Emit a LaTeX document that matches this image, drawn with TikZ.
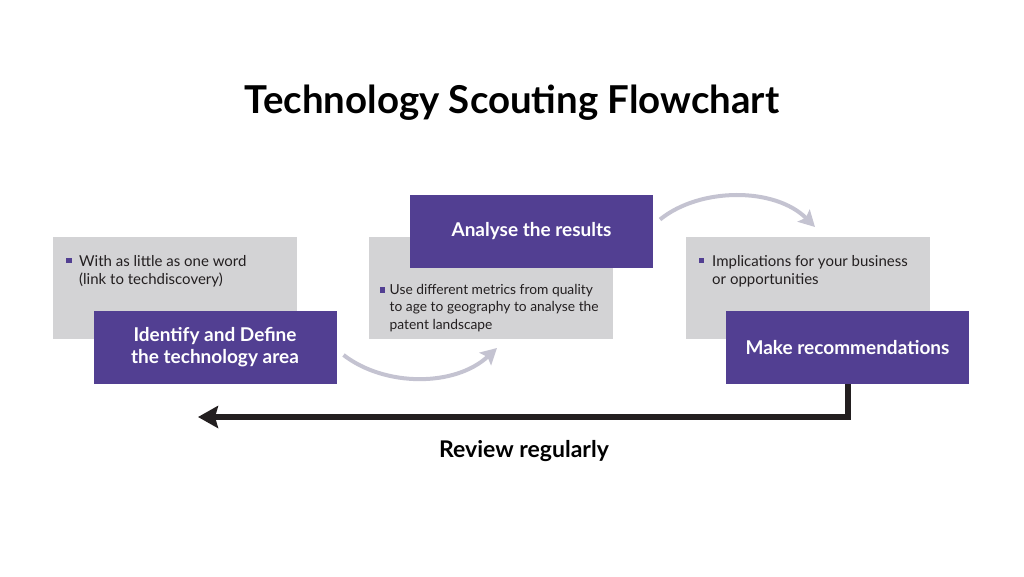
\documentclass[tikz,border=0pt]{standalone}
\usepackage{fontspec}
\setmainfont{Lato}
\usepackage{xcolor}
\usetikzlibrary{arrows.meta}
\definecolor{scoutpurple}{HTML}{523F92}
\definecolor{scoutgray}{HTML}{D3D3D5}
\definecolor{scoutcurve}{HTML}{C4C3D1}
\definecolor{scoutblack}{HTML}{231F20}
\tikzset{
    graybox/.style={fill=scoutgray, inner sep=0pt, outer sep=0pt, minimum width=244pt, minimum height=102pt},
    stepbox/.style={fill=scoutpurple, text=white, inner sep=0pt, outer sep=0pt, minimum width=243pt, minimum height=73pt, align=center, font=\fontsize{19}{22}\selectfont\bfseries},
    bulletsq/.style={fill=scoutpurple, inner sep=0pt, minimum size=5.5pt},
    bullettext/.style={anchor=base west, inner sep=0pt, align=left, text=scoutblack, font=\fontsize{15}{18}\selectfont},
    curvearrow/.style={draw=scoutcurve, line width=4pt, -{Stealth[length=16pt,width=17pt,inset=3pt]}},
    reviewarrow/.style={draw=scoutblack, line width=6pt, -{Stealth[length=20pt,width=22pt,inset=3pt]}}
}

\begin{document}
\begin{tikzpicture}[x=1pt,y=-1pt]
    \useasboundingbox (0,0) rectangle (1024,576);

    \node[anchor=base, text=black, font=\fontsize{38.4}{44}\selectfont\bfseries] (title) at (512,113) {Technology Scouting Flowchart};

    \node[graybox] (G1) at (175,288) {};
    \node[graybox] (G2) at (491,288) {};
    \node[graybox] (G3) at (808,288) {};

    % last baseline of each bullet text
    \node[bulletsq] (B1) at (69,260.5) {};
    \node[bullettext] (T1) at (79,284) {With as little as one word\\(link to techdiscovery)};
    \node[bulletsq] (B2) at (382.5,290) {};
    \node[bullettext, font=\fontsize{13.8}{17.5}\selectfont] (T2) at (389.5,329.3) {Use different metrics from quality\\to age to geography to analyse the\\patent landscape};
    \node[bulletsq] (B3) at (701.5,260.5) {};
    \node[bullettext] (T3) at (712,284) {Implications for your business\\or opportunities};

    \node[stepbox] (S1) at (215,347.5) {Identify and Define\\the technology area};
    \node[stepbox] (S2) at (531.5,231.5) {Analyse the results};
    \node[stepbox] (S3) at (847.5,347.5) {Make recommendations};

    \draw[curvearrow] ([xshift=7pt,yshift=-7.5pt]S1.east) .. controls (385,387) and (455,387) .. ([xshift=6pt,yshift=-9pt]G2.south);
    \draw[curvearrow] ([xshift=7pt,yshift=12pt]S2.east) .. controls (700,187) and (775,187) .. ([xshift=7pt,yshift=10pt]G3.north);

    \coordinate (revend) at (198,417);
    \draw[reviewarrow] (S3.south) |- (revend);
    \node[anchor=base, text=black, font=\fontsize{23}{27}\selectfont\bfseries] (review) at (524,457) {Review regularly};

\end{tikzpicture}
\end{document}
